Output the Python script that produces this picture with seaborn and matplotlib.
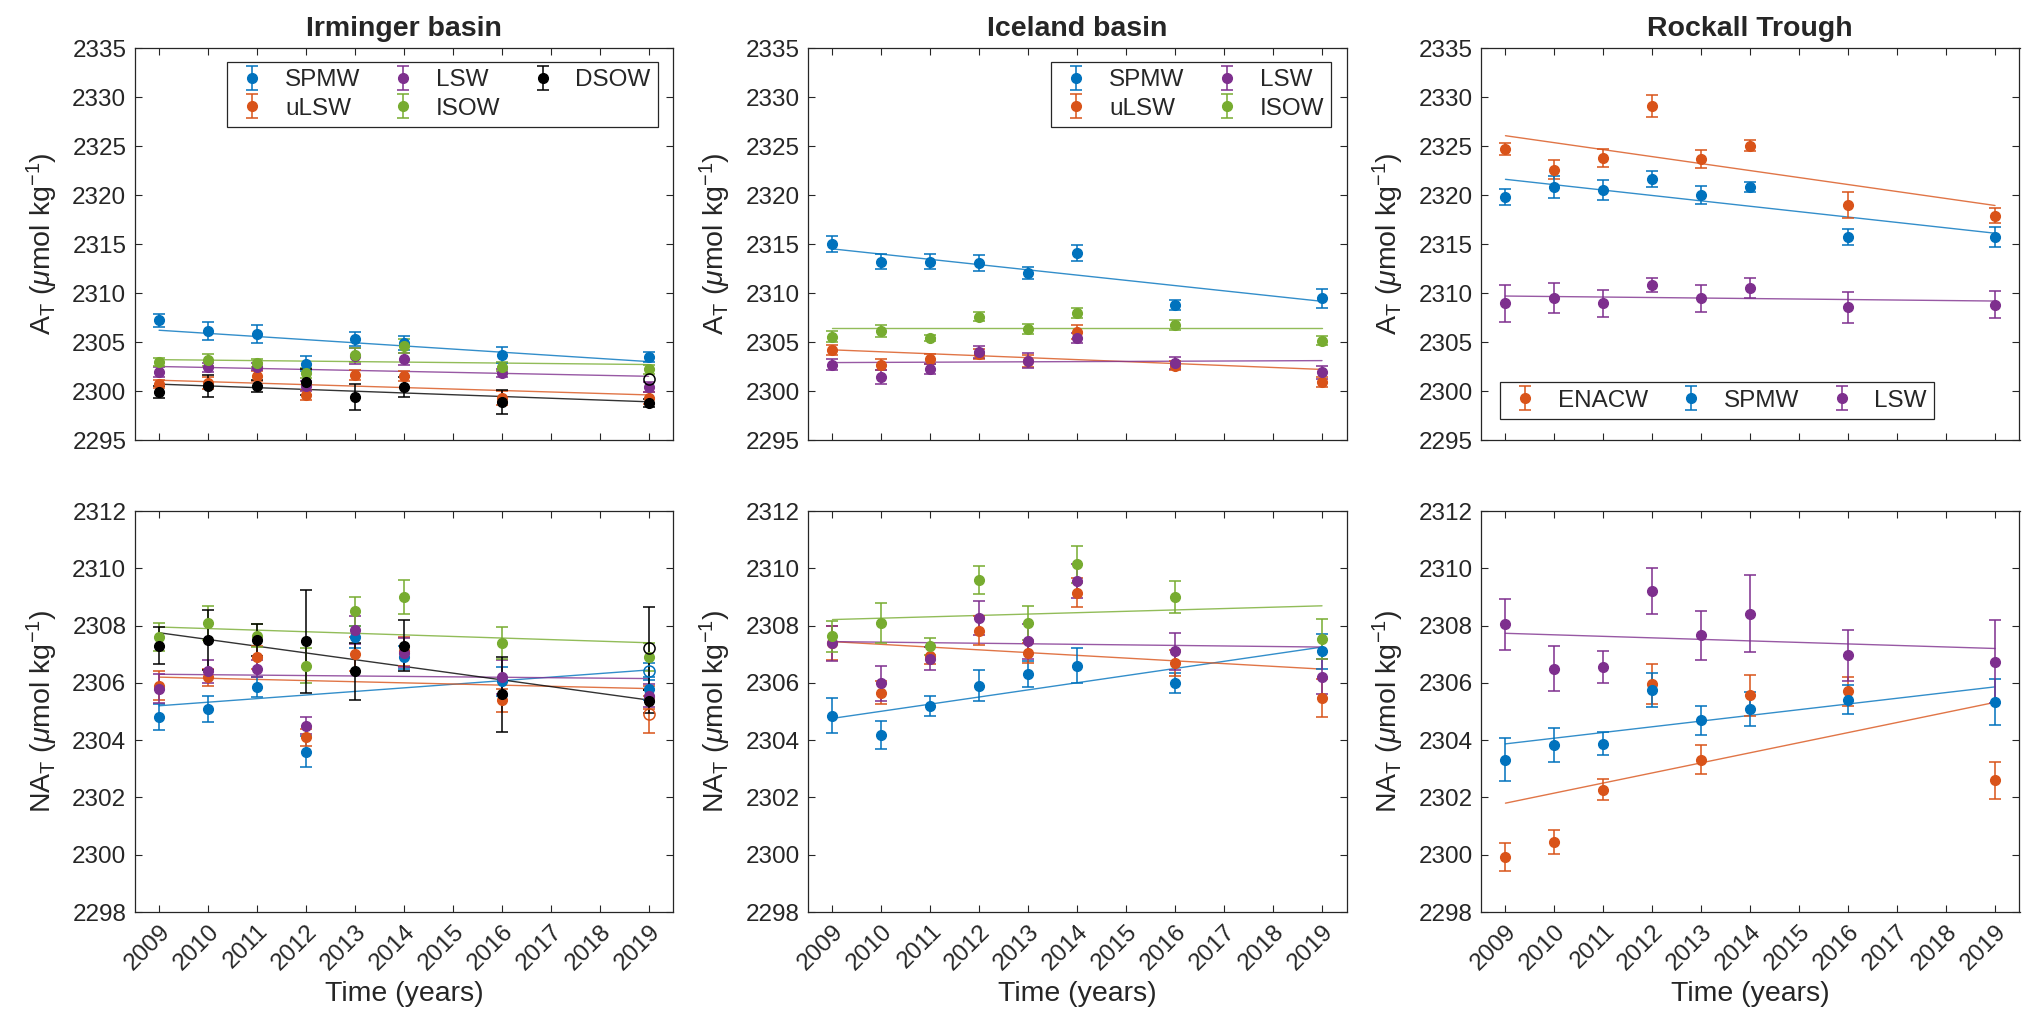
import numpy as np
import pandas as pd
import matplotlib
matplotlib.use('Agg')
import matplotlib.pyplot as plt
import seaborn as sns

sns.set_style("ticks")
plt.rcParams['font.family'] = ['Liberation Sans', 'DejaVu Sans']
plt.rcParams['mathtext.fontset'] = 'custom'
plt.rcParams['mathtext.rm'] = 'Liberation Sans'
plt.rcParams['mathtext.it'] = 'Liberation Sans:italic'
plt.rcParams['mathtext.bf'] = 'Liberation Sans:bold'

# ==== data
years = [2009, 2010, 2011, 2012, 2013, 2014, 2016, 2019]

# -- Irminger basin, A_T
irm_at_spmw = [2307.2, 2306.1, 2305.8, 2302.8, 2305.3, 2304.9, 2303.7, 2303.5]
irm_at_spmw_err = [0.7, 0.9, 0.9, 0.8, 0.7, 0.7, 0.8, 0.5]
irm_at_ulsw = [2300.7, 2300.8, 2301.5, 2299.6, 2301.6, 2301.5, 2299.3, 2299.3]
irm_at_ulsw_err = [0.4, 0.6, 0.5, 0.5, 0.5, 0.5, 0.7, 0.6]
irm_at_lsw = [2301.9, 2302.4, 2302.5, 2300.5, 2303.6, 2303.3, 2301.8, 2300.4]
irm_at_lsw_err = [0.5, 0.5, 0.4, 0.5, 0.8, 0.6, 0.4, 0.5]
irm_at_isow = [2303.0, 2303.2, 2302.9, 2301.8, 2303.7, 2304.6, 2302.5, 2302.2]
irm_at_isow_err = [0.4, 0.6, 0.4, 0.5, 0.7, 0.7, 0.5, 0.5]
irm_at_dsow = [2299.9, 2300.5, 2300.5, 2300.9, 2299.4, 2300.4, 2298.9, 2298.8]
irm_at_dsow_err = [0.6, 1.1, 0.6, 1.3, 1.3, 1.0, 1.2, 0.4]
irm_at_trend_start = [2306.2, 2301.1, 2302.5, 2303.2, 2300.7]
irm_at_trend_end = [2303.0, 2299.6, 2301.5, 2302.7, 2298.9]
irm_at_open = {'DSOW': (2301.2, 0.0)}

# -- Irminger basin, NA_T
irm_nat_spmw = [2304.8, 2305.1, 2305.85, 2303.6, 2307.6, 2306.9, 2306.05, 2305.8]
irm_nat_spmw_err = [0.45, 0.45, 0.35, 0.55, 0.4, 0.4, 0.5, 0.4]
irm_nat_ulsw = [2305.9, 2306.2, 2306.9, 2304.1, 2307.0, 2307.1, 2305.4, 2305.5]
irm_nat_ulsw_err = [0.5, 0.3, 0.4, 0.3, 0.6, 0.5, 0.4, 0.4]
irm_nat_lsw = [2305.8, 2306.4, 2306.5, 2304.5, 2307.85, 2307.05, 2306.2, 2305.55]
irm_nat_lsw_err = [0.5, 0.4, 0.3, 0.3, 0.5, 0.5, 0.6, 0.4]
irm_nat_isow = [2307.6, 2308.1, 2307.65, 2306.6, 2308.5, 2309.0, 2307.4, 2306.9]
irm_nat_isow_err = [0.5, 0.6, 0.4, 0.6, 0.5, 0.6, 0.55, 0.5]
irm_nat_dsow = [2307.3, 2307.5, 2307.5, 2307.45, 2306.4, 2307.3, 2305.6, 2305.35]
irm_nat_dsow_err = [0.65, 1.05, 0.55, 1.8, 1.0, 0.9, 1.3, 0.4]
irm_nat_trend_start = [2305.2, 2306.2, 2306.3, 2307.95, 2307.75]
irm_nat_trend_end = [2306.45, 2305.8, 2306.15, 2307.4, 2305.4]
irm_nat_open = {'SPMW': (2306.4, 0.3), 'uLSW': (2304.9, 0.65), 'DSOW': (2307.2, 1.45)}

# -- Iceland basin, A_T
ice_at_spmw = [2315.0, 2313.2, 2313.2, 2313.05, 2312.05, 2314.1, 2308.75, 2309.45]
ice_at_spmw_err = [0.8, 0.8, 0.8, 0.8, 0.6, 0.8, 0.5, 1.0]
ice_at_ulsw = [2304.2, 2302.7, 2303.3, 2303.8, 2303.1, 2306.0, 2302.6, 2300.9]
ice_at_ulsw_err = [0.5, 0.6, 0.5, 0.5, 0.6, 0.7, 0.5, 0.5]
ice_at_lsw = [2302.7, 2301.4, 2302.25, 2304.0, 2303.1, 2305.4, 2302.85, 2301.9]
ice_at_lsw_err = [0.6, 0.7, 0.5, 0.6, 0.8, 0.5, 0.6, 0.7]
ice_at_isow = [2305.55, 2306.1, 2305.4, 2307.6, 2306.3, 2308.0, 2306.75, 2305.15]
ice_at_isow_err = [0.6, 0.6, 0.3, 0.5, 0.5, 0.5, 0.5, 0.5]
ice_at_trend_start = [2314.5, 2304.2, 2302.9, 2306.4]
ice_at_trend_end = [2309.15, 2302.2, 2303.1, 2306.4]

# -- Iceland basin, NA_T
ice_nat_spmw = [2304.86, 2304.18, 2305.18, 2305.9, 2306.32, 2306.6, 2305.98, 2307.1]
ice_nat_spmw_err = [0.6, 0.5, 0.35, 0.55, 0.45, 0.6, 0.35, 0.6]
ice_nat_ulsw = [2307.4, 2305.65, 2306.95, 2307.82, 2307.04, 2309.15, 2306.68, 2305.47]
ice_nat_ulsw_err = [0.6, 0.4, 0.3, 0.5, 0.35, 0.5, 0.45, 0.67]
ice_nat_lsw = [2307.38, 2305.98, 2306.85, 2308.26, 2307.45, 2309.55, 2307.1, 2306.22]
ice_nat_lsw_err = [0.6, 0.6, 0.4, 0.6, 0.6, 0.6, 0.65, 0.6]
ice_nat_isow = [2307.62, 2308.08, 2307.27, 2309.59, 2308.08, 2310.14, 2309.0, 2307.53]
ice_nat_isow_err = [0.55, 0.7, 0.3, 0.5, 0.6, 0.65, 0.55, 0.7]
ice_nat_trend_start = [2304.76, 2307.44, 2307.44, 2308.21]
ice_nat_trend_end = [2307.25, 2306.48, 2307.25, 2308.69]

# -- Rockall Trough, A_T
rock_at_enacw = [2324.7, 2322.6, 2323.8, 2329.1, 2323.7, 2325.05, 2319.0, 2317.9]
rock_at_enacw_err = [0.6, 1.0, 0.9, 1.1, 0.9, 0.6, 1.3, 0.8]
rock_at_spmw = [2319.8, 2320.8, 2320.5, 2321.6, 2320.0, 2320.8, 2315.7, 2315.7]
rock_at_spmw_err = [0.8, 1.1, 1.0, 0.8, 0.9, 0.5, 0.8, 1.0]
rock_at_lsw = [2308.95, 2309.5, 2308.95, 2310.85, 2309.45, 2310.5, 2308.55, 2308.8]
rock_at_lsw_err = [1.9, 1.5, 1.4, 0.7, 1.4, 1.0, 1.6, 1.4]
rock_at_trend_start = [2326.05, 2321.6, 2309.69]
rock_at_trend_end = [2318.93, 2316.1, 2309.18]

# -- Rockall Trough, NA_T
rock_nat_enacw = [2299.92, 2300.45, 2302.27, 2305.96, 2303.32, 2305.56, 2305.7, 2302.6]
rock_nat_enacw_err = [0.5, 0.43, 0.37, 0.7, 0.5, 0.7, 0.5, 0.65]
rock_nat_spmw = [2303.32, 2303.82, 2303.88, 2305.76, 2304.69, 2305.09, 2305.41, 2305.33]
rock_nat_spmw_err = [0.75, 0.6, 0.4, 0.6, 0.5, 0.6, 0.5, 0.8]
rock_nat_lsw = [2308.04, 2306.5, 2306.56, 2309.21, 2307.66, 2308.42, 2306.96, 2306.74]
rock_nat_lsw_err = [0.9, 0.8, 0.55, 0.8, 0.85, 1.35, 0.9, 1.45]
rock_nat_trend_start = [2301.8, 2303.87, 2307.73]
rock_nat_trend_end = [2305.32, 2305.86, 2307.2]

colors = {'SPMW': '#0072BD', 'uLSW': '#D95319', 'LSW': '#7E2F8E',
          'ISOW': '#77AC30', 'DSOW': '#000000', 'ENACW': '#D95319'}

panels = [
    # (row, col, title, masses, values, errs, trend start, trend end, open, legend)
    (0, 0, 'Irminger basin', ['SPMW', 'uLSW', 'LSW', 'ISOW', 'DSOW'],
     [irm_at_spmw, irm_at_ulsw, irm_at_lsw, irm_at_isow, irm_at_dsow],
     [irm_at_spmw_err, irm_at_ulsw_err, irm_at_lsw_err, irm_at_isow_err, irm_at_dsow_err],
     irm_at_trend_start, irm_at_trend_end, irm_at_open, 'irm'),
    (1, 0, None, ['SPMW', 'uLSW', 'LSW', 'ISOW', 'DSOW'],
     [irm_nat_spmw, irm_nat_ulsw, irm_nat_lsw, irm_nat_isow, irm_nat_dsow],
     [irm_nat_spmw_err, irm_nat_ulsw_err, irm_nat_lsw_err, irm_nat_isow_err, irm_nat_dsow_err],
     irm_nat_trend_start, irm_nat_trend_end, irm_nat_open, None),
    (0, 1, 'Iceland basin', ['SPMW', 'uLSW', 'LSW', 'ISOW'],
     [ice_at_spmw, ice_at_ulsw, ice_at_lsw, ice_at_isow],
     [ice_at_spmw_err, ice_at_ulsw_err, ice_at_lsw_err, ice_at_isow_err],
     ice_at_trend_start, ice_at_trend_end, {}, 'ice'),
    (1, 1, None, ['SPMW', 'uLSW', 'LSW', 'ISOW'],
     [ice_nat_spmw, ice_nat_ulsw, ice_nat_lsw, ice_nat_isow],
     [ice_nat_spmw_err, ice_nat_ulsw_err, ice_nat_lsw_err, ice_nat_isow_err],
     ice_nat_trend_start, ice_nat_trend_end, {}, None),
    (0, 2, 'Rockall Trough', ['ENACW', 'SPMW', 'LSW'],
     [rock_at_enacw, rock_at_spmw, rock_at_lsw],
     [rock_at_enacw_err, rock_at_spmw_err, rock_at_lsw_err],
     rock_at_trend_start, rock_at_trend_end, {}, 'rock'),
    (1, 2, None, ['ENACW', 'SPMW', 'LSW'],
     [rock_nat_enacw, rock_nat_spmw, rock_nat_lsw],
     [rock_nat_enacw_err, rock_nat_spmw_err, rock_nat_lsw_err],
     rock_nat_trend_start, rock_nat_trend_end, {}, None),
]

# ==== layout (pixels of a 2024x1021 figure)
W, H = 2024., 1021.
col_left = [134.6, 808., 1481.]
ax_w = 538.5
row_top = [48., 511.]
row_bot = [440., 912.]

fig = plt.figure(figsize=(20.24, 10.21), dpi=100)
fs = 17.5      # ticks and legends
fs_lab = 20.5  # axis labels and titles
txt_col = '#262626'

for row, col, title, masses, vals, errs, tstart, tend, opens, leg in panels:
    ax = fig.add_axes([col_left[col] / W, 1 - row_bot[row] / H,
                       ax_w / W, (row_bot[row] - row_top[row]) / H])
    for m, v, e, t0, t1 in zip(masses, vals, errs, tstart, tend):
        c = colors[m]
        df_t = pd.DataFrame({'year': [years[0], years[-1]], 'val': [t0, t1]})
        sns.lineplot(data=df_t, x='year', y='val', color=c, lw=1.0, alpha=0.8,
                     ax=ax, legend=False)
        ax.errorbar(years, v, yerr=e, fmt='o', color=c, ms=7, capsize=4,
                    elinewidth=1.1, capthick=1.1, label=m, zorder=3)
        if m in opens:
            ov, oe = opens[m]
            ax.errorbar([years[-1]], [ov], yerr=[oe] if oe > 0 else None, fmt='o',
                        mfc='none', mec=c, color=c, ms=8, mew=1.1, capsize=4,
                        elinewidth=1.1, capthick=1.1, zorder=3)

    ax.set_xlim(2008.5, 2019.5)
    ax.set_xticks(np.arange(2009, 2020))
    if row == 0:
        ax.set_ylim(2295, 2335)
        ax.set_yticks(np.arange(2295, 2336, 5))
        ax.set_xticklabels([])
        ax.set_xlabel('')
        ax.set_ylabel('A$_\\mathrm{T}$ ($\\mu$mol kg$^{-1}$)', fontsize=fs_lab,
                      color=txt_col, labelpad=9)
    else:
        ax.set_ylim(2298, 2312)
        ax.set_yticks(np.arange(2298, 2313, 2))
        ax.set_xticklabels([str(y) for y in range(2009, 2020)], rotation=45,
                           ha='right', rotation_mode='anchor')
        ax.set_ylabel('NA$_\\mathrm{T}$ ($\\mu$mol kg$^{-1}$)', fontsize=fs_lab,
                      color=txt_col, labelpad=9)
        ax.set_xlabel('Time (years)', fontsize=fs_lab, color=txt_col, labelpad=5)
    ax.tick_params(direction='in', top=True, right=True, length=5, width=0.8,
                   labelsize=fs, colors=txt_col, pad=6)
    for s in ax.spines.values():
        s.set_color(txt_col)
        s.set_linewidth(0.9)
    if title:
        ax.set_title(title, fontsize=fs_lab, fontweight='bold', pad=9)

    leg_kw = dict(frameon=True, fancybox=False, framealpha=1, edgecolor='#262626',
                  fontsize=fs, borderaxespad=0, handletextpad=0.6, labelspacing=0.25,
                  borderpad=0.3, columnspacing=1.0, handlelength=1.5)
    if leg == 'irm':
        lg = ax.legend(ncol=3, loc='upper right', bbox_to_anchor=(0.972, 0.964), **leg_kw)
    elif leg == 'ice':
        lg = ax.legend(ncol=2, loc='upper right', bbox_to_anchor=(0.972, 0.964), **leg_kw)
    elif leg == 'rock':
        lg = ax.legend(ncol=3, loc='lower left', bbox_to_anchor=(0.035, 0.054), **leg_kw)
    if leg:
        lg.get_frame().set_linewidth(0.9)

fig.savefig('out.png', dpi=100)
plt.close()
